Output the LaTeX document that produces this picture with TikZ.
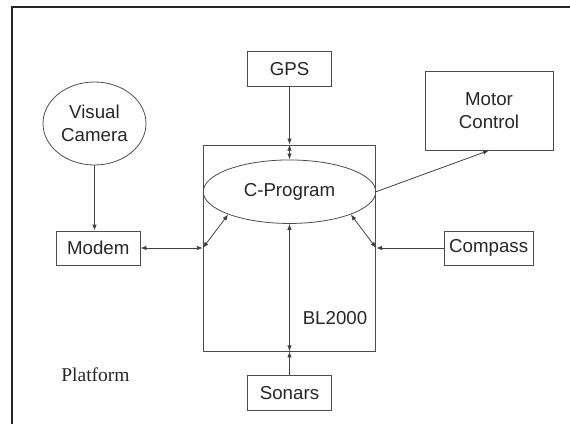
\documentclass[tikz,border=0pt]{standalone}
\usepackage{fontspec}
\setmainfont{Liberation Sans}
\newfontfamily\platformfont{Liberation Serif}
\usetikzlibrary{
    arrows.meta,
    positioning,
    calc,
    shapes.geometric,
}

\begin{document}
\begin{tikzpicture}[
    x=1pt, y=-1pt,
    every node/.style={font=\fontsize{18.7}{22.5}\selectfont, text=black!85},
    unit/.style={draw=black!70, line width=0.8pt, inner sep=0pt, align=center},
    blob/.style={draw=black!70, line width=0.8pt, ellipse, inner sep=0pt, align=center},
    link/.style={draw=black!75, line width=0.8pt},
    >={Latex[length=6pt,width=4.5pt]},
    ]

\useasboundingbox (0,0) rectangle (570,424);

% frame
\draw[line width=1.4pt, black!85] (12,424) -- (12,7) -- (570,7);

\node[unit, minimum width=172.5pt, minimum height=206pt] at (289.5,248) (bl) {};

\node[blob, minimum width=172.5pt, minimum height=63.5pt] at (289.5,191.7) (cprog)
    {C-Program};

\node[unit, minimum width=83.5pt, minimum height=34.5pt] at (289.5,68.8) (gps) {GPS};

\node[unit, minimum width=83.5pt, minimum height=34.5pt] at (289.5,393) (sonars) {Sonars};

\node[unit, minimum width=83.5pt, minimum height=34pt] at (98.3,248) (modem) {Modem};

\node[unit, minimum width=89pt, minimum height=34pt] at (488.7,248) (compass) {Compass};

\node[unit, minimum width=128pt, minimum height=78.5pt] at (489,110.8) (motor)
    {Motor\\Control};

\node[blob, minimum width=103pt, minimum height=83pt] at (94.5,123.5) (camera)
    {Visual\\Camera};

\node at (335,318) (board) {BL2000};

\node[font=\platformfont\fontsize{19.5}{22}\selectfont] at (95.5,374.3) (platform) {Platform};

% connections
\coordinate (bl-w) at (bl.west |- modem.east);
\coordinate (bl-e) at (bl.east |- compass.west);

\draw[link, ->] (gps.south) -- (bl.north);
\draw[link, <->] (bl.north) -- (cprog.north);
\draw[link, ->] (sonars.north) -- (bl.south);
\draw[link, <->] (bl.south) -- (cprog.south);
\draw[link, ->] (camera.south) -- (camera.south |- modem.north);
\draw[link, <->] (modem.east) -- (bl-w);
\draw[link, <->] (bl-w) -- (cprog.south west);
\draw[link, ->] (compass.west) -- (bl-e);
\draw[link, <->] (bl-e) -- (cprog.south east);
\draw[link, ->] (cprog.east) -- (motor.south);

\end{tikzpicture}
\end{document}
